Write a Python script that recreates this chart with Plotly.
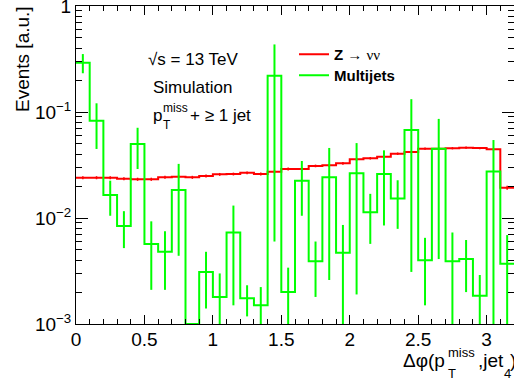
import numpy as np
import plotly.graph_objects as go

# ---------------- data ----------------
bin_edges = np.round(np.linspace(0.0, 3.2, 33), 2)
bin_centers = np.round((bin_edges[:-1] + bin_edges[1:]) / 2, 3)

zvv = [0.0240, 0.0240, 0.0240, 0.0235, 0.0232, 0.0232, 0.0242, 0.0245,
       0.0242, 0.0249, 0.0258, 0.0260, 0.0267, 0.0260, 0.0273, 0.0290,
       0.0290, 0.0310, 0.0314, 0.0328, 0.0358, 0.0366, 0.0379, 0.0404,
       0.0419, 0.0451, 0.0451, 0.0455, 0.0461, 0.0457, 0.0445, 0.0193]
zvv_err = [0.0008, 0.0008, 0.0008, 0.0008, 0.0008, 0.0008, 0.0008, 0.0008,
           0.0008, 0.0008, 0.0008, 0.0008, 0.0008, 0.0008, 0.0009, 0.0009,
           0.0009, 0.0009, 0.0009, 0.0010, 0.0010, 0.0010, 0.0010, 0.0011,
           0.0011, 0.0011, 0.0011, 0.0011, 0.0011, 0.0011, 0.0011, 0.0008]

multijets = [0.292, 0.0828, 0.0165, 0.0084, 0.0500, 0.0057, 0.0048, 0.0184,
             0.0, 0.0031, 0.0018, 0.0073, 0.00175, 0.0015, 0.220, 0.0020,
             0.0225, 0.0039, 0.0242, 0.0047, 0.0264, 0.0113, 0.0260, 0.0153,
             0.0676, 0.0040, 0.0451, 0.0039, 0.0041, 0.00185, 0.0274, 0.0037]
multijets_err = [0.060, 0.038, 0.006, 0.0032, 0.021, 0.0036, 0.0027, 0.014,
                 0.0, 0.0017, 0.0012, 0.0058, 0.00057, 0.00073, 0.214, 0.0014,
                 0.012, 0.0021, 0.0216, 0.0039, 0.0245, 0.0056, 0.0175, 0.0074,
                 0.0645, 0.0025, 0.041, 0.0034, 0.0021, 0.00105, 0.027, 0.0032]

x_tick_vals = [0, 0.5, 1, 1.5, 2, 2.5, 3]
x_tick_text = ["0", "0.5", "1", "1.5", "2", "2.5", "3"]
y_tick_vals = [1e-3, 1e-2, 1e-1, 1]
y_tick_text = ["10<sup>\u22123</sup>", "10<sup>\u22122</sup>", "10<sup>\u22121</sup>", "1"]

# --------------- layout helpers ---------------
W, H = 514, 383
L, R, T, B = 76, 0, 6, 59
PW, PH = W - L - R, H - T - B
YMIN = 1e-3


def px(X):
    return (X - L) / PW


def py(Y):
    return (T + PH - Y) / PH


FONT = "Liberation Sans, Arial, Helvetica, sans-serif"
RED = "#ff0000"
GREEN = "#00ff00"


def step_y(vals):
    v = [max(a, YMIN) for a in vals]
    return v + [v[-1]]


fig = go.Figure()

# Z -> nunu histogram
fig.add_trace(go.Scatter(
    x=bin_edges, y=step_y(zvv), mode="lines", line=dict(color=RED, width=2, shape="hv"),
    name="<b>Z</b> \u2192 <span style=\"font-family:Liberation Serif\">\u03bd\u03bd</span>",
    showlegend=True, legend="legend"))
fig.add_trace(go.Scatter(
    x=bin_centers, y=zvv, mode="markers", marker=dict(size=1, color=RED),
    error_y=dict(type="data", array=zvv_err, width=0, thickness=1.5, color=RED),
    showlegend=False, hoverinfo="skip"))

# Multijets histogram
fig.add_trace(go.Scatter(
    x=bin_edges, y=step_y(multijets), mode="lines",
    line=dict(color=GREEN, width=2, shape="hv"),
    name="<b>Multijets</b>", showlegend=True, legend="legend2"))
mj_pts = [v if v > 0 else None for v in multijets]
fig.add_trace(go.Scatter(
    x=bin_centers, y=mj_pts, mode="markers", marker=dict(size=1, color=GREEN),
    error_y=dict(type="data", array=multijets_err, width=0, thickness=2, color=GREEN),
    showlegend=False, hoverinfo="skip"))

# minor ticks
x_minor = [round(0.1 * i, 1) for i in range(33) if i % 5 != 0]
y_minor = []
for e in (-3, -2, -1):
    for m in range(2, 10):
        y_minor.append(m * 10.0 ** e)

fig.update_xaxes(
    range=[0, 3.2], showgrid=False, zeroline=False, automargin=False,
    showline=True, linecolor="black", linewidth=1, mirror="ticks",
    ticks="inside", ticklen=9, tickwidth=1, tickcolor="black",
    tickmode="array", tickvals=x_tick_vals, ticktext=x_tick_text,
    tickfont=dict(family=FONT, size=19, color="black"),
    ticklabeloverflow="allow", ticklabelstandoff=-2,
    minor=dict(tickmode="array", tickvals=x_minor, ticks="inside", ticklen=5,
               tickwidth=1, tickcolor="black", showgrid=False),
)
fig.update_yaxes(
    type="log", range=[-3, 0], showgrid=False, zeroline=False, automargin=False,
    showline=True, linecolor="black", linewidth=1, mirror="ticks",
    ticks="inside", ticklen=12, tickwidth=1, tickcolor="black",
    tickmode="array", tickvals=y_tick_vals, ticktext=y_tick_text,
    tickfont=dict(family=FONT, size=19, color="black"),
    ticklabeloverflow="allow",
    minor=dict(tickmode="array", tickvals=y_minor, ticks="inside", ticklen=6,
               tickwidth=1, tickcolor="black", showgrid=False),
)

ann = []


def text(s, X, Y, size, xanchor="left", yanchor="middle", angle=0):
    ann.append(dict(text=s, x=px(X), y=py(Y), xref="paper", yref="paper",
                    xanchor=xanchor, yanchor=yanchor, showarrow=False,
                    textangle=angle, font=dict(family=FONT, size=size, color="black")))


# y-axis title
text("Events [a.u.]", 22, 4, 19, xanchor="center", yanchor="top", angle=-90)

# x-axis title (stacked sub/superscripts)
text("\u0394\u03c6(p", 447, 360, 19, xanchor="right")
text("miss", 446, 352, 13)
text("T", 446, 373, 13)
text(",jet", 476, 360, 19)
text("4", 502, 373, 13)
text(")", 508, 360, 19)

# info text
text("\u221as = 13 TeV", 146, 60, 17)
text("Simulation", 151, 87, 17)
text("p", 151, 115, 17)
text("miss", 161, 108, 12)
text("T", 161, 125, 12)
text("+ \u2265 1 jet", 188, 115, 17)

leg_common = dict(xanchor="left", yanchor="top",
                  font=dict(family=FONT, size=15, color="black"),
                  bgcolor="rgba(0,0,0,0)", borderwidth=0,
                  itemwidth=30, tracegroupgap=0)

fig.update_layout(
    width=W, height=H,
    margin=dict(l=L, r=R, t=T, b=B, pad=0, autoexpand=False),
    paper_bgcolor="white", plot_bgcolor="white",
    font=dict(family=FONT, color="black"),
    annotations=ann,
    legend=dict(x=px(294), y=py(38), **leg_common),
    legend2=dict(x=px(294), y=py(59), **leg_common),
)

fig.write_html("out.html", config={"displayModeBar": False},
               post_script="document.body.style.margin='0';document.body.style.padding='0';")
